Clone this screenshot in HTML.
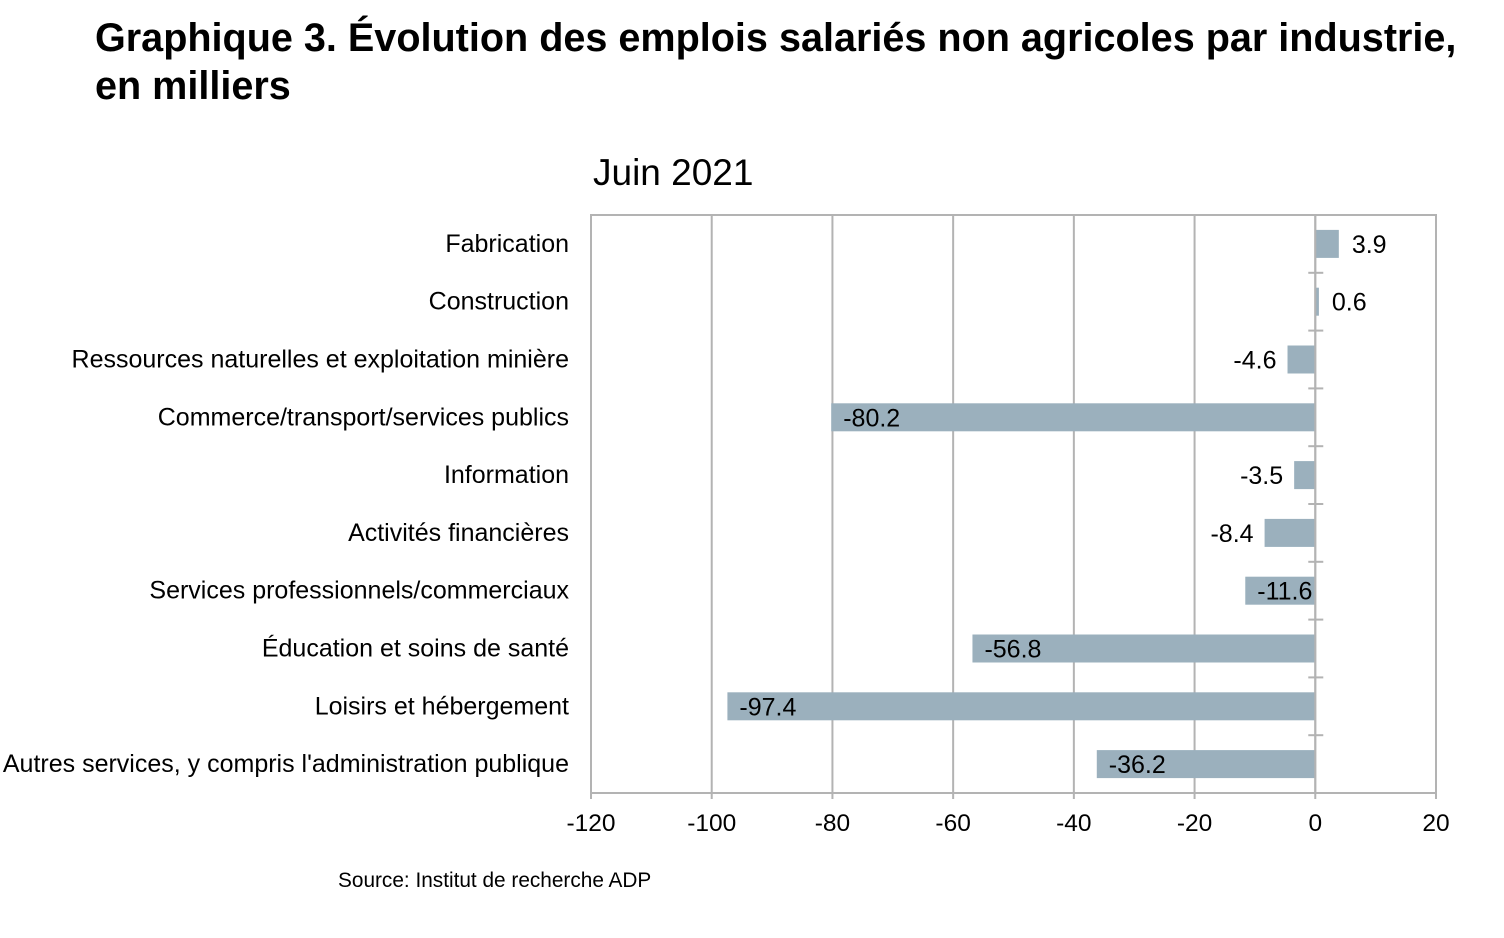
<!DOCTYPE html>
<html><head><meta charset="utf-8"><style>
body{margin:0;background:#fff;width:1504px;height:933px;overflow:hidden;font-family:"Liberation Sans",sans-serif}
</style></head><body>
<svg width="1504" height="933" font-family="Liberation Sans, sans-serif">
<text x="95" y="51" font-size="39.6" font-weight="bold" fill="#000">Graphique 3. Évolution des emplois salariés non agricoles par industrie,</text>
<text x="95" y="99" font-size="39.6" font-weight="bold" fill="#000">en milliers</text>
<text x="593" y="185" font-size="37" fill="#000">Juin 2021</text>
<text x="338" y="887" font-size="20.8" fill="#000">Source: Institut de recherche ADP</text>
<g id="plot"></g>
</svg>
<script>
const categories=["Fabrication","Construction","Ressources naturelles et exploitation minière","Commerce/transport/services publics","Information","Activités financières","Services professionnels/commerciaux","Éducation et soins de santé","Loisirs et hébergement","Autres services, y compris l'administration publique"];
const values=[3.9,0.6,-4.6,-80.2,-3.5,-8.4,-11.6,-56.8,-97.4,-36.2];
const valueLabels=["3.9","0.6","-4.6","-80.2","-3.5","-8.4","-11.6","-56.8","-97.4","-36.2"];
const xTicks=[-120,-100,-80,-60,-40,-20,0,20];
const L=591,R=1436,T=215,B=793,xmin=-120,xmax=20;
const x=v=>L+(v-xmin)/(xmax-xmin)*(R-L);
const band=(B-T)/categories.length;
const y=i=>T+band*i;
const g=document.getElementById('plot');
const NS='http://www.w3.org/2000/svg';
function mk(t,a,txt){const e=document.createElementNS(NS,t);for(const k in a)e.setAttribute(k,a[k]);if(txt!=null)e.textContent=txt;g.appendChild(e);return e;}
let e;
xTicks.forEach(t=>{
 e=mk('line',{x1:x(t),x2:x(t),y1:T,y2:B+6,stroke:'#b3b3b3','stroke-width':2});
 
 
 e=mk('text',{x:x(t),y:B+38,'font-size':24.5,'text-anchor':'middle',fill:'#000'},String(t));
 
 
});
e=mk('rect',{x:L,y:T,width:R-L,height:B-T,fill:'none',stroke:'#b3b3b3','stroke-width':2});


for(let i=1;i<categories.length;i++){
 e=mk('line',{x1:x(0)-7,x2:x(0)+8,y1:y(i),y2:y(i),stroke:'#b3b3b3','stroke-width':2});
 
 
}
categories.forEach((c,i)=>{
 const cy=y(i)+band/2, v=values[i];
 const x0=Math.min(x(0),x(v)), w=Math.abs(x(v)-x(0));
 e=mk('rect',{x:x0,y:cy-14,width:w,height:28,fill:'#9bb0bd'});
 
 
 e=mk('text',{x:569,y:cy+8,'font-size':25,'text-anchor':'end',fill:'#000'},c);
 
 
 let lx,anc;
 if(v>=0){lx=x(v)+13;anc='start';}
 else if(v>-10){lx=x(v)-11;anc='end';}
 else{lx=x(v)+12;anc='start';}
 e=mk('text',{x:lx,y:cy+9,'font-size':25,'text-anchor':anc,fill:'#000'},valueLabels[i]);
 
 
});
e=mk('line',{x1:x(0),x2:x(0),y1:T,y2:B,stroke:'#b3b3b3','stroke-width':2});


</script>
</body></html>
